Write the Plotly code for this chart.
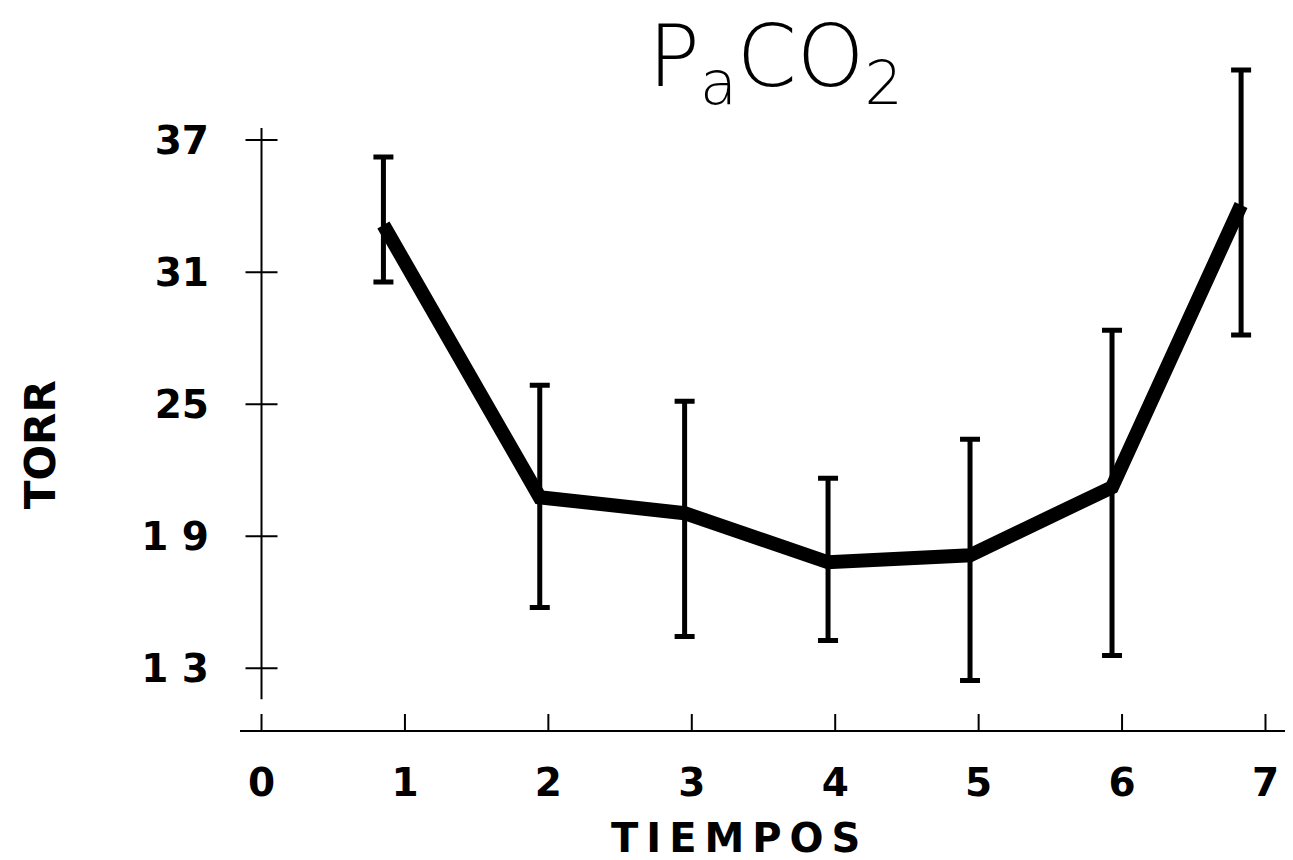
import plotly.graph_objects as go

# Data
tiempos = [0.85, 1.94, 2.95, 3.95, 4.94, 5.93, 6.83]
paco2_media = [33.14, 20.77, 20.05, 17.82, 18.14, 21.23, 34.05]
paco2_sup = [36.23, 25.86, 25.14, 21.64, 23.41, 28.36, 40.18]
paco2_inf = [30.55, 15.77, 14.45, 14.27, 12.45, 13.59, 28.14]

x_ticks = [0, 1, 2, 3, 4, 5, 6, 7]
x_ticktext = ["0", "1", "2", "3", "4", "5", "6", "7"]
y_ticks = [13, 19, 25, 31, 37]
y_ticktext = ["1 3", "1 9", "25", "31", "37"]

err_plus = [s - m for s, m in zip(paco2_sup, paco2_media)]
err_minus = [m - i for m, i in zip(paco2_media, paco2_inf)]

Y_MIN, Y_MAX = 10.2, 41.0
X_MIN, X_MAX = -0.15, 7.15

fig = go.Figure()
fig.add_trace(go.Scatter(
    x=tiempos, y=paco2_media, mode="lines",
    line=dict(color="black", width=14),
    error_y=dict(type="data", symmetric=False, array=err_plus, arrayminus=err_minus,
                 color="black", thickness=5, width=10),
    showlegend=False, hoverinfo="skip",
))

shapes = []
# y axis line
shapes.append(dict(type="line", xref="x", yref="y", x0=0, x1=0,
                   y0=min(y_ticks) - 1.4, y1=max(y_ticks) + 0.55,
                   line=dict(color="black", width=2)))
# cross ticks on y axis
for t in y_ticks:
    shapes.append(dict(type="line", xref="x", yref="y", xsizemode="pixel", xanchor=0,
                       x0=-16, x1=16, y0=t, y1=t, line=dict(color="black", width=2)))
# cross ticks on x axis
for t in x_ticks:
    shapes.append(dict(type="line", xref="x", yref="y", ysizemode="pixel", yanchor=Y_MIN,
                       y0=-18, y1=16, x0=t, x1=t, line=dict(color="black", width=2)))

tick_font = dict(family="DejaVu Sans", size=39, color="black", weight="bold")

fig.update_layout(
    width=1285, height=852,
    margin=dict(l=232, r=6, t=44, b=130),
    paper_bgcolor="white", plot_bgcolor="white",
    shapes=shapes,
    xaxis=dict(range=[X_MIN, X_MAX], showgrid=False, zeroline=False,
               showline=True, linecolor="black", linewidth=2,
               tickmode="array", tickvals=x_ticks, ticktext=x_ticktext,
               ticks="", ticklabelstandoff=17, tickfont=tick_font),
    yaxis=dict(range=[Y_MIN, Y_MAX], showgrid=False, zeroline=False, showline=False,
               tickmode="array", tickvals=y_ticks, ticktext=y_ticktext,
               ticks="", ticklabelstandoff=30, tickfont=tick_font),
    annotations=[
        dict(text="P<sub>a</sub>CO<sub>2</sub>", xref="paper", yref="paper",
             x=0.511, y=0.985, xanchor="center", yanchor="middle", showarrow=False,
             font=dict(family="DejaVu Sans", size=86, color="black", weight=200)),
        dict(text="TORR", xref="paper", yref="paper",
             x=-0.191, y=0.42, xanchor="center", yanchor="middle", showarrow=False,
             textangle=-90,
             font=dict(family="DejaVu Sans", size=42, color="black", weight="bold")),
        dict(text="T\u2009I\u2009E\u2009M\u2009P\u2009O\u2009S", xref="paper", yref="paper",
             x=0.473, y=-0.159, xanchor="center", yanchor="middle", showarrow=False,
             font=dict(family="DejaVu Sans", size=40, color="black", weight="bold")),
    ],
)

fig.write_html("out.html")
